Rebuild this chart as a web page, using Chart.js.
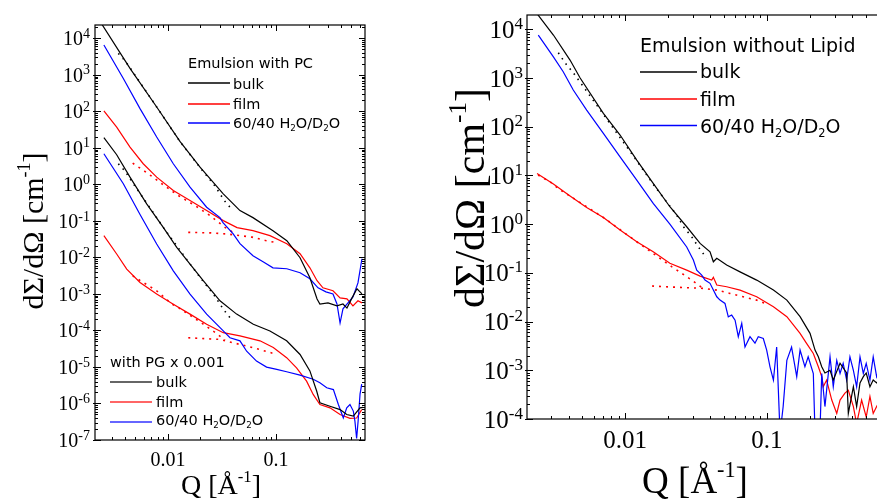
<!DOCTYPE html>
<html lang="en">
<head>
  <meta charset="UTF-8" />
  <title>SANS emulsion curves</title>
  <script src="https://cdn.jsdelivr.net/npm/chart.js"></script>
  <style>
    html, body {
      margin: 0;
      padding: 0;
      width: 877px;
      height: 502px;
      overflow: hidden;
      background: #fff;
    }
    body { position: relative; }
    #leftChart { position: absolute; left: 0; top: 0; }
    #rightChart { position: absolute; left: 420px; top: 0; }
  </style>
</head>
<body>
  <canvas id="leftChart" width="400" height="502"></canvas>
  <canvas id="rightChart" width="465" height="502"></canvas>

  <script>
    const serif = "'Liberation Serif', 'Times New Roman', serif";
    const sans = "'DejaVu Sans', sans-serif";

    const seriesLabels = ['bulk', 'film', '60/40 H2O/D2O'];
    const seriesColors = ['#000000', '#ff0000', '#0000ff'];
    const xTickValues = [0.01, 0.1];
    const xTickLabels = ['0.01', '0.1'];

    // ---- left panel: emulsion with PC (upper set)
    const pcBulkQ = [0.00245, 0.00445, 0.00786, 0.0129, 0.0198, 0.0325, 0.0464, 0.0612, 0.0938, 0.126, 0.167, 0.206, 0.240, 0.255, 0.303, 0.367, 0.417, 0.454, 0.506, 0.562, 0.625];
    const pcBulkI = [2.4e4, 1500, 132, 15.0, 2.97, 0.552, 0.192, 0.123, 0.054, 0.0288, 0.0098, 0.00277, 7.3e-4, 5.3e-4, 5.7e-4, 4.7e-4, 5.3e-4, 4.1e-4, 7.8e-4, 1.38e-3, 1.0e-3];
    const pcBulkFitQ = [0.00347, 0.0040, 0.00445, 0.00786, 0.0129, 0.0198, 0.0263, 0.0297, 0.0332, 0.0375];
    const pcBulkFitI = [3870, 2430, 1560, 132, 15.0, 2.9, 1.04, 0.61, 0.361, 0.237];
    const pcBlueQ = [0.00255, 0.00386, 0.00551, 0.00786, 0.0112, 0.016, 0.0228, 0.0303, 0.0323, 0.040, 0.0464, 0.0612, 0.0759, 0.0938, 0.126, 0.167, 0.206, 0.245, 0.290, 0.337, 0.367, 0.392, 0.417, 0.464, 0.516, 0.574, 0.625];
    const pcBlueI = [6550, 796, 119, 19.8, 3.68, 0.84, 0.237, 0.123, 0.089, 0.0448, 0.0238, 0.0111, 0.0076, 0.0052, 0.0049, 0.0038, 0.0026, 0.00147, 0.00114, 0.0010, 5.3e-4, 1.6e-4, 3.9e-4, 5.7e-4, 8.3e-4, 2.0e-3, 9.2e-3];
    const pcFilmQ = [0.00255, 0.00335, 0.00445, 0.0059, 0.00786, 0.0112, 0.016, 0.0228, 0.0325, 0.0436, 0.0612, 0.0879, 0.126, 0.167, 0.206, 0.240, 0.272, 0.337, 0.392, 0.454, 0.516, 0.574, 0.625];
    const pcFilmI = [103, 37.2, 10.5, 3.68, 1.58, 0.68, 0.361, 0.192, 0.102, 0.0655, 0.0542, 0.0395, 0.0238, 0.0126, 0.0052, 0.0023, 0.00147, 0.00122, 7.8e-4, 7.3e-4, 4.7e-4, 6.5e-4, 5.7e-4];
    const pcFilmFitQ = [0.00471, 0.00658, 0.00904, 0.01245, 0.0178, 0.0245, 0.0337, 0.040];
    const pcFilmFitI = [3.82, 1.95, 0.975, 0.496, 0.263, 0.14, 0.0667, 0.0486];
    const pcFilmFlatQ = [0.0154, 0.025, 0.035, 0.0464, 0.06, 0.08, 0.1016];
    const pcFilmFlatI = [0.0486, 0.047, 0.044, 0.0395, 0.036, 0.029, 0.0253];

    // ---- left panel: with PG x 0.001 (lower set)
    const pgBulkQ = [0.00255, 0.00335, 0.00445, 0.00635, 0.00904, 0.01205, 0.016, 0.0212, 0.0303, 0.0432, 0.0617, 0.0879, 0.1255, 0.167, 0.206, 0.238, 0.255, 0.316, 0.392, 0.452, 0.52, 0.6, 0.64];
    const pgBulkI = [19.1, 6.5, 1.58, 0.293, 0.0667, 0.0188, 0.0066, 0.0023, 6.5e-4, 2.8e-4, 1.48e-4, 9.7e-5, 5.2e-5, 2.2e-5, 7.8e-6, 2.2e-6, 1.05e-6, 8.4e-7, 6.8e-7, 5.0e-7, 4.5e-7, 7.6e-7, 7.8e-7];
    const pgBulkFitQ = [0.00347, 0.0040, 0.00445, 0.00904, 0.016, 0.0212, 0.0267, 0.033, 0.0375];
    const pgBulkFitI = [3.68, 2.31, 1.43, 0.0667, 0.0066, 0.0022, 9.3e-4, 3.6e-4, 2.25e-4];
    const pgBlueQ = [0.00255, 0.00386, 0.00551, 0.00786, 0.0112, 0.016, 0.0228, 0.0325, 0.0375, 0.0464, 0.0535, 0.066, 0.0818, 0.1016, 0.1255, 0.167, 0.221, 0.255, 0.295, 0.34, 0.378, 0.42, 0.452, 0.484, 0.52, 0.538, 0.558, 0.576, 0.6, 0.622];
    const pgBlueI = [6.93, 1.04, 0.15, 0.0233, 0.0043, 9.9e-4, 2.8e-4, 9.7e-5, 6.3e-5, 5.2e-5, 2.7e-5, 1.45e-5, 9.9e-6, 8.6e-6, 7.4e-6, 6.0e-6, 4.6e-6, 3.7e-6, 2.7e-6, 2.4e-6, 9.4e-7, 4.0e-7, 7.6e-7, 9.4e-7, 6.2e-7, 3.3e-7, 1.1e-7, 3.3e-7, 1.8e-6, 3.4e-6];
    const pgFilmQ = [0.00255, 0.00335, 0.00415, 0.00551, 0.00786, 0.0112, 0.016, 0.0228, 0.0325, 0.0464, 0.0711, 0.0944, 0.1255, 0.155, 0.192, 0.221, 0.255, 0.316, 0.392, 0.484, 0.558, 0.622];
    const pgFilmI = [0.0395, 0.0124, 0.0048, 0.00206, 9.9e-4, 5.2e-4, 2.8e-4, 1.48e-4, 8.7e-5, 7.1e-5, 5.2e-5, 3.4e-5, 1.8e-5, 9.5e-6, 4.1e-6, 1.77e-6, 9.4e-7, 7.6e-7, 5.0e-7, 3.9e-7, 4.0e-7, 6.8e-7];
    const pgFilmFitQ = [0.00471, 0.00558, 0.00786, 0.0108, 0.0127, 0.0209, 0.0248, 0.0288, 0.0337];
    const pgFilmFitI = [0.00314, 0.00229, 0.00122, 5.4e-4, 4.1e-4, 1.54e-4, 1.08e-4, 7.9e-5, 5.4e-5];
    const pgFilmFlatQ = [0.0154, 0.0303, 0.040, 0.0535, 0.0711, 0.102];
    const pgFilmFlatI = [6.3e-5, 5.7e-5, 4.6e-5, 3.75e-5, 3.0e-5, 2.2e-5];

    // ---- right panel: emulsion without lipid
    const woBulkQ = [0.0024, 0.00313, 0.0041, 0.00483, 0.00704, 0.00923, 0.0121, 0.0158, 0.0207, 0.0272, 0.0338, 0.0397, 0.0419, 0.0443, 0.052, 0.0646, 0.0846, 0.111, 0.138, 0.171, 0.201, 0.218, 0.23, 0.243, 0.256, 0.278, 0.293, 0.327, 0.364, 0.374, 0.406, 0.428, 0.452, 0.477, 0.50, 0.531, 0.56, 0.592, 0.63, 0.68];
    const woBulkI = [2.1e4, 7640, 2340, 1000, 188, 67.6, 20.7, 6.89, 2.28, 0.885, 0.403, 0.271, 0.169, 0.199, 0.145, 0.105, 0.0711, 0.0443, 0.0276, 0.0126, 0.00573, 0.0026, 0.00189, 0.00118, 8.8e-4, 1.0e-3, 6.3e-4, 1.4e-3, 8.8e-4, 1.3e-4, 4.6e-4, 1.8e-4, 5.5e-4, 7.4e-4, 8.8e-4, 4.6e-4, 6.3e-4, 5.5e-4, 7e-4, 5e-4];
    const woBulkFitQ = [0.00339, 0.00378, 0.00432, 0.00704, 0.0121, 0.0158, 0.0231, 0.0258, 0.0295, 0.0328, 0.0376];
    const woBulkFitI = [3310, 2060, 1285, 180, 20, 6.6, 1.54, 0.885, 0.551, 0.344, 0.199];
    const woBlueQ = [0.00245, 0.00313, 0.00367, 0.00432, 0.00537, 0.00704, 0.00923, 0.0121, 0.0158, 0.0207, 0.0272, 0.0303, 0.032, 0.0347, 0.0366, 0.0397, 0.0419, 0.0443, 0.0467, 0.0506, 0.0534, 0.0564, 0.0596, 0.0628, 0.0664, 0.070, 0.0759, 0.0823, 0.0868, 0.0942, 0.0995, 0.105, 0.111, 0.117, 0.1236, 0.130, 0.138, 0.149, 0.162, 0.171, 0.185, 0.195, 0.212, 0.218, 0.236, 0.243, 0.256, 0.278, 0.293, 0.31, 0.327, 0.344, 0.364, 0.384, 0.406, 0.428, 0.452, 0.477, 0.50, 0.531, 0.56, 0.592, 0.63, 0.68];
    const woBlueI = [7640, 2730, 1346, 568, 220, 73, 24, 8.0, 2.67, 1.0, 0.34, 0.183, 0.114, 0.090, 0.071, 0.061, 0.0443, 0.0323, 0.0276, 0.0236, 0.0125, 0.0136, 0.0107, 0.0049, 0.0092, 0.0030, 0.0049, 0.0036, 0.0049, 0.0045, 0.0026, 0.00118, 6.3e-4, 0.0030, 5e-5, 1.8e-4, 0.0016, 0.0030, 7.4e-4, 0.0026, 0.00118, 0.00189, 8.6e-4, 5e-5, 5e-5, 8.6e-4, 1.8e-4, 0.00189, 4.6e-4, 0.0016, 8.6e-4, 0.00139, 6.3e-4, 0.00189, 1.0e-3, 4.6e-4, 0.00189, 8.6e-4, 0.00139, 6.3e-4, 0.00189, 7.4e-4, 0.0012, 8e-4];
    const woFilmQ = [0.0024, 0.00313, 0.0041, 0.00537, 0.00704, 0.00923, 0.0121, 0.0158, 0.0207, 0.0272, 0.0338, 0.0408, 0.0419, 0.0443, 0.052, 0.0646, 0.0846, 0.111, 0.138, 0.171, 0.19, 0.212, 0.23, 0.243, 0.249, 0.263, 0.286, 0.31, 0.327, 0.354, 0.374, 0.406, 0.428, 0.464, 0.50, 0.531, 0.56, 0.592, 0.63, 0.68];
    const woFilmI = [11.0, 6.65, 3.77, 2.19, 1.37, 0.757, 0.436, 0.271, 0.157, 0.114, 0.0859, 0.0711, 0.081, 0.0562, 0.0519, 0.0443, 0.0323, 0.0201, 0.0126, 0.00573, 0.00357, 0.00222, 0.00118, 7.4e-4, 4.6e-4, 6.3e-4, 2.45e-4, 1.3e-4, 2.45e-4, 3.4e-4, 3.9e-4, 1.8e-4, 8e-5, 2.45e-4, 1.1e-4, 2.9e-4, 1.3e-4, 1.8e-4, 2.5e-4, 1.2e-4];
    const woFilmFitQ = [0.00244, 0.00296, 0.00344, 0.0041, 0.00704, 0.0121, 0.0213, 0.0251, 0.0295, 0.0347];
    const woFilmFitI = [10.2, 7.43, 5.19, 3.77, 1.37, 0.436, 0.134, 0.0977, 0.0711, 0.0503];
    const woFilmFlatQ = [0.0155, 0.0244, 0.0356, 0.0443, 0.0548, 0.068, 0.0846, 0.0969];
    const woFilmFlatI = [0.0536, 0.0503, 0.0481, 0.0443, 0.0379, 0.0323, 0.0276, 0.0236];

    function pts(q, v) {
      return q.map((x, i) => ({ x: x, y: v[i] }));
    }

    function solid(q, v, color) {
      return { data: pts(q, v), borderColor: color, borderWidth: 1.2, pointRadius: 0, fill: false };
    }

    function dotted(q, v, color, dash) {
      return { data: pts(q, v), borderColor: color, borderWidth: 1.6, borderDash: dash, pointRadius: 0, fill: false };
    }

    // split "60/40 H2O/D2O" into normal / subscript pieces
    function chemParts(label) {
      const parts = [];
      for (let i = 0; i < label.length; i++) {
        const ch = label[i];
        const kind = /\d/.test(ch) && i > 0 && /[A-Z]/.test(label[i - 1]) ? 'sub' : 'n';
        if (parts.length && parts[parts.length - 1][1] === kind) parts[parts.length - 1][0] += ch;
        else parts.push([ch, kind]);
      }
      return parts;
    }

    function drawRich(ctx, parts, x, y, size, family, align) {
      const small = size * 0.6;
      let w = 0;
      parts.forEach(p => {
        ctx.font = (p[1] === 'n' ? size : small) + 'px ' + family;
        w += ctx.measureText(p[0]).width;
      });
      let cx = align === 'center' ? x - w / 2 : (align === 'right' ? x - w : x);
      ctx.textAlign = 'left';
      ctx.textBaseline = 'alphabetic';
      parts.forEach(p => {
        ctx.font = (p[1] === 'n' ? size : small) + 'px ' + family;
        const dy = p[1] === 'sup' ? -size * 0.42 : (p[1] === 'sub' ? size * 0.22 : 0);
        ctx.fillText(p[0], cx, y + dy);
        cx += ctx.measureText(p[0]).width;
      });
    }

    const yTitleParts = [['d\u03A3/d\u03A9 [cm', 'n'], ['-1', 'sup'], [']', 'n']];
    const xTitleParts = [['Q [\u00C5', 'n'], ['-1', 'sup'], [']', 'n']];

    function axesPlugin(cfg) {
      return {
        id: 'axes_' + cfg.name,
        afterDraw(chart) {
          const ctx = chart.ctx;
          const a = chart.chartArea;
          const xs = chart.scales.x;
          const ys = chart.scales.y;
          ctx.save();
          ctx.strokeStyle = '#000';
          ctx.fillStyle = '#000';
          ctx.lineWidth = 1.2;
          ctx.strokeRect(a.left, a.top, a.right - a.left, a.bottom - a.top);

          // inward ticks on all four sides
          ctx.lineWidth = 1;
          ctx.beginPath();
          for (let e = Math.floor(Math.log10(ys.min)); e <= Math.ceil(Math.log10(ys.max)); e++) {
            for (let m = 1; m < 10; m++) {
              const v = m * Math.pow(10, e);
              if (v < ys.min * 0.999 || v > ys.max * 1.001) continue;
              const y = Math.round(ys.getPixelForValue(v)) + 0.5;
              const len = m === 1 ? 6 : 3;
              ctx.moveTo(a.left - (m === 1 ? 2 : 0), y); ctx.lineTo(a.left + len, y);
              ctx.moveTo(a.right, y); ctx.lineTo(a.right - len, y);
            }
          }
          for (let e = Math.floor(Math.log10(xs.min)); e <= Math.ceil(Math.log10(xs.max)); e++) {
            for (let m = 1; m < 10; m++) {
              const v = m * Math.pow(10, e);
              if (v < xs.min * 0.999 || v > xs.max * 1.001) continue;
              const x = Math.round(xs.getPixelForValue(v)) + 0.5;
              const len = m === 1 ? 6 : 3;
              ctx.moveTo(x, a.bottom); ctx.lineTo(x, a.bottom - len);
              ctx.moveTo(x, a.top); ctx.lineTo(x, a.top + len);
            }
          }
          ctx.stroke();

          // decade labels on y
          for (let e = Math.ceil(Math.log10(ys.min) - 1e-6); e <= Math.floor(Math.log10(ys.max) + 1e-6); e++) {
            const y = ys.getPixelForValue(Math.pow(10, e));
            const exp = String(e);
            ctx.textBaseline = 'alphabetic';
            ctx.textAlign = 'right';
            ctx.font = cfg.expSize + 'px ' + serif;
            const ew = ctx.measureText(exp).width;
            ctx.fillText(exp, a.left - cfg.yGap, y + cfg.tickSize * 0.34 - cfg.tickSize * 0.36);
            ctx.font = cfg.tickSize + 'px ' + serif;
            ctx.fillText('10', a.left - cfg.yGap - ew, y + cfg.tickSize * 0.34);
          }

          // x labels
          ctx.textAlign = 'center';
          ctx.font = cfg.tickSize + 'px ' + serif;
          xTickValues.forEach((v, i) => {
            ctx.fillText(xTickLabels[i], xs.getPixelForValue(v), a.bottom + cfg.xLabelDy);
          });

          // axis titles
          drawRich(ctx, xTitleParts, cfg.xTitle[0], cfg.xTitle[1], cfg.xTitle[2], serif, 'center');
          ctx.save();
          ctx.translate(cfg.yTitle[0], cfg.yTitle[1]);
          ctx.rotate(-Math.PI / 2);
          drawRich(ctx, yTitleParts, 0, 0, cfg.yTitle[2], serif, 'center');
          ctx.restore();

          // legends
          cfg.legends.forEach(lg => {
            drawRich(ctx, [[lg.title, 'n']], lg.x, lg.titleBase, lg.size, sans, 'left');
            lg.rows.forEach((r, i) => {
              ctx.save();
              ctx.globalAlpha = lg.alpha;
              ctx.strokeStyle = seriesColors[i];
              ctx.lineWidth = lg.lineWidth;
              ctx.beginPath();
              ctx.moveTo(lg.x, r[1]);
              ctx.lineTo(lg.lineEnd, r[1]);
              ctx.stroke();
              ctx.restore();
              drawRich(ctx, chemParts(seriesLabels[i]), lg.textX, r[0], lg.size, sans, 'left');
            });
          });
          ctx.restore();
        }
      };
    }

    function makeChart(id, datasets, scales, sizes, cfg) {
      return new Chart(document.getElementById(id), {
        type: 'line',
        data: { datasets: datasets },
        options: {
          responsive: false,
          animation: false,
          layout: { padding: sizes.padding },
          plugins: { legend: { display: false }, tooltip: { enabled: false } },
          elements: { point: { radius: 0 }, line: { tension: 0 } },
          scales: {
            x: {
              type: 'logarithmic', min: scales.xmin, max: scales.xmax,
              grid: { display: false }, border: { display: false }, ticks: { display: false },
              afterFit: s => { s.height = sizes.xHeight; }
            },
            y: {
              type: 'logarithmic', min: scales.ymin, max: scales.ymax,
              grid: { display: false }, border: { display: false }, ticks: { display: false },
              afterFit: s => { s.width = sizes.yWidth; }
            }
          }
        },
        plugins: [axesPlugin(cfg)]
      });
    }

    makeChart('leftChart', [
      solid(pcBulkQ, pcBulkI, seriesColors[0]),
      dotted(pcBulkFitQ, pcBulkFitI, seriesColors[0], [1.5, 5]),
      solid(pcBlueQ, pcBlueI, seriesColors[2]),
      solid(pcFilmQ, pcFilmI, seriesColors[1]),
      dotted(pcFilmFitQ, pcFilmFitI, seriesColors[1], [2, 5]),
      dotted(pcFilmFlatQ, pcFilmFlatI, seriesColors[1], [2, 5]),
      solid(pgBulkQ, pgBulkI, seriesColors[0]),
      dotted(pgBulkFitQ, pgBulkFitI, seriesColors[0], [1.5, 5]),
      solid(pgBlueQ, pgBlueI, seriesColors[2]),
      solid(pgFilmQ, pgFilmI, seriesColors[1]),
      dotted(pgFilmFitQ, pgFilmFitI, seriesColors[1], [2, 5]),
      dotted(pgFilmFlatQ, pgFilmFlatI, seriesColors[1], [2, 5])
    ], { xmin: 0.00211, xmax: 0.667, ymin: 1e-7, ymax: 2.32e4 },
    { padding: { left: 0, right: 35, top: 25, bottom: 0 }, xHeight: 62, yWidth: 95 },
    {
      name: 'left', tickSize: 20, expSize: 14, yGap: 5, xLabelDy: 26,
      xTitle: [221, 494, 28], yTitle: [43, 231, 30],
      legends: [
        { title: 'Emulsion with PC', x: 188, lineEnd: 230, textX: 233, titleBase: 68, size: 14.5, alpha: 1, lineWidth: 1.5,
          rows: [[89, 83], [109, 104], [128, 123]] },
        { title: 'with PG x 0.001', x: 110, lineEnd: 152, textX: 156, titleBase: 367, size: 14.5, alpha: 0.6, lineWidth: 2,
          rows: [[387, 382], [407, 402], [425, 422]] }
      ]
    });

    makeChart('rightChart', [
      solid(woBulkQ, woBulkI, seriesColors[0]),
      dotted(woBulkFitQ, woBulkFitI, seriesColors[0], [1.5, 5]),
      solid(woBlueQ, woBlueI, seriesColors[2]),
      solid(woFilmQ, woFilmI, seriesColors[1]),
      dotted(woFilmFitQ, woFilmFitI, seriesColors[1], [2, 5]),
      dotted(woFilmFlatQ, woFilmFlatI, seriesColors[1], [2, 5])
    ], { xmin: 0.00204, xmax: 0.678, ymin: 1e-4, ymax: 1.97e4 },
    { padding: { left: 0, right: 0, top: 15, bottom: 0 }, xHeight: 83, yWidth: 107 },
    {
      name: 'right', tickSize: 25, expSize: 17, yGap: 4, xLabelDy: 29,
      xTitle: [275, 493, 37], yTitle: [64, 198, 42],
      legends: [
        { title: 'Emulsion without Lipid', x: 220, lineEnd: 277, textX: 280, titleBase: 52, size: 19, alpha: 1, lineWidth: 1.5,
          rows: [[78, 72], [106, 99], [133, 125.5]] }
      ]
    });
  </script>
</body>
</html>
